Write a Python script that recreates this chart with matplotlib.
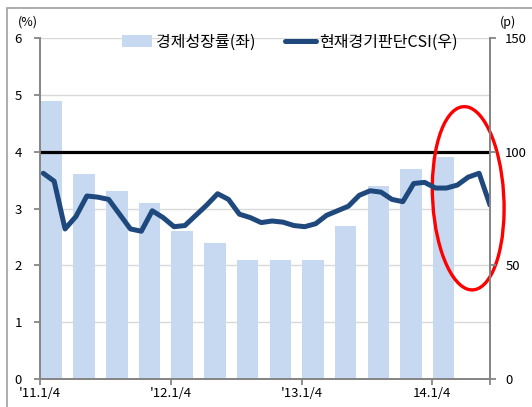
import numpy as np
import matplotlib
matplotlib.use("Agg")
import matplotlib.pyplot as plt
from matplotlib.patches import Ellipse, Rectangle

plt.rcParams['font.family'] = ['Noto Sans CJK KR', 'DejaVu Sans']

# quarterly GDP growth (%), 2011Q1 - 2014Q1
gdp = [4.9, 3.6, 3.3, 3.1, 2.6, 2.4, 2.1, 2.1, 2.1, 2.7, 3.4, 3.7, 3.9]

# monthly current business condition CSI, 2011.1 - 2014.6
csi = [90.5, 87, 66, 71.5, 80.5, 80, 79, 72.5, 66, 65, 74, 71,
       67, 67.5, 72, 76.5, 81.5, 79, 72.5, 71, 68.8, 69.5, 69, 67.5,
       67, 68.3, 72, 74, 76, 80.8, 82.8, 82.2, 79, 78, 86, 86.5,
       84, 84, 85.3, 88.8, 90.5, 76.5]

tick_labels = ["'11.1/4", "'12.1/4", "'13.1/4", "14.1/4"]

bar_color = "#C6D9F1"
line_color = "#1F497D"
grey = "#868686"

fig = plt.figure(figsize=(5.32, 4.07), dpi=100)
ax = fig.add_axes([40 / 532, 1 - 379 / 407, 450 / 532, 341 / 407])

bar_x = 3 * np.arange(len(gdp)) + 1.05
line_x = np.arange(len(csi)) + 0.3

ax.grid(axis="y", color="#D9D9D9", linewidth=1)
ax.set_axisbelow(True)
bars = ax.bar(bar_x, gdp, width=1.97, color=bar_color, zorder=2)
ax.axhline(4, color="black", linewidth=2.3, zorder=3)

ax2 = ax.twinx()
line, = ax2.plot(line_x, csi, color=line_color, linewidth=3.6,
                 solid_joinstyle="round", solid_capstyle="round")

ax.set_xlim(0, 41.3)
ax.set_ylim(0, 6)
ax2.set_ylim(0, 150)
ax.set_yticks(range(7))
ax2.set_yticks([0, 50, 100, 150])
ax.set_xticks([0, 12, 24, 36, 41.3])
ax.set_xticklabels(tick_labels + [""])

for a in (ax, ax2):
    a.spines["top"].set_visible(False)
    for s in ("left", "right", "bottom"):
        a.spines[s].set_color(grey)
        a.spines[s].set_linewidth(1.3)
    a.tick_params(colors=grey, labelcolor="black", labelsize=9.5, length=4, width=1.3)
ax.tick_params(axis="y", pad=9)
ax2.tick_params(axis="y", pad=7)
ax.tick_params(axis="x", pad=2)

fig.text(28 / 532, 1 - 22 / 407, "(%)", fontsize=9, ha="center", va="center")
fig.text(508 / 532, 1 - 22 / 407, "(p)", fontsize=9, ha="center", va="center")

ax.legend([bars, line], ["경제성장률(좌)", "현재경기판단CSI(우)"], loc="upper center",
          bbox_to_anchor=(0.555, 1.055), ncol=2, frameon=False, fontsize=11.5,
          handlelength=1.9, handletextpad=0.2, columnspacing=1.9)

# hand-drawn highlight
ell = Ellipse((39.3, 3.18), 6.6, 3.2, angle=-4, fill=False, edgecolor="red",
              linewidth=2.4, clip_on=False, zorder=6)
ax.add_patch(ell)

# chart frame
fig.patches.append(Rectangle((7 / 532, -0.1), 1.2, 1 - 8 / 407 + 0.1, transform=fig.transFigure,
                             fill=False, edgecolor="#A0A0A0", linewidth=1.2))

fig.savefig("out.png", dpi=100)
